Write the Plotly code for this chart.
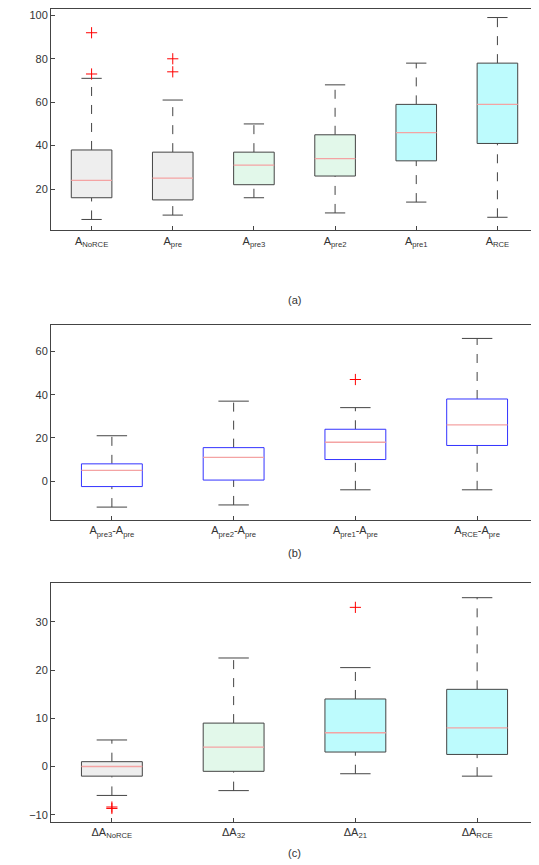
import plotly.graph_objects as go

# panel (a)
a_labels = ["A<sub>NoRCE</sub>", "A<sub>pre</sub>", "A<sub>pre3</sub>", "A<sub>pre2</sub>", "A<sub>pre1</sub>", "A<sub>RCE</sub>"]
a_low = [6, 8, 16, 9, 14, 7]
a_q1 = [16, 15, 22, 26, 33, 41]
a_med = [24, 25, 31, 34, 46, 59]
a_q3 = [38, 37, 37, 45, 59, 78]
a_high = [71, 61, 50, 68, 78, 99]
a_out = [[73, 92], [74, 80], [], [], [], []]
a_fill = ["#eeeeee", "#eeeeee", "#e2f8ea", "#e2f8ea", "#bdfbfd", "#bdfbfd"]

# panel (b)
b_labels = ["A<sub>pre3</sub>-A<sub>pre</sub>", "A<sub>pre2</sub>-A<sub>pre</sub>", "A<sub>pre1</sub>-A<sub>pre</sub>", "A<sub>RCE</sub>-A<sub>pre</sub>"]
b_low = [-12, -11, -4, -4]
b_q1 = [-2.5, 0.5, 10, 16.5]
b_med = [5, 11, 18, 26]
b_q3 = [8, 15.5, 24, 38]
b_high = [21, 37, 34, 66]
b_out = [[], [], [47], []]
b_fill = ["white"] * 4

# panel (c)
c_labels = ["ΔA<sub>NoRCE</sub>", "ΔA<sub>32</sub>", "ΔA<sub>21</sub>", "ΔA<sub>RCE</sub>"]
c_low = [-6, -5, -1.5, -2]
c_q1 = [-2, -1, 3, 2.5]
c_med = [0, 4, 7, 8]
c_q3 = [1, 9, 14, 16]
c_high = [5.5, 22.5, 20.5, 35]
c_out = [[-8.4, -8.7], [], [33], []]
c_fill = ["#eeeeee", "#e2f8ea", "#bdfbfd", "#bdfbfd"]

fig = go.Figure()


def add_panel(n, low, q1, med, q3, high, outs, fills, edge):
    xa = "x" if n == 1 else "x%d" % n
    ya = "y" if n == 1 else "y%d" % n
    hw, cw = 0.25, 0.125
    for i in range(len(med)):
        x = i + 1
        fig.add_trace(go.Scatter(x=[x, x, None, x, x], y=[low[i], q1[i], None, q3[i], high[i]],
                                 mode="lines", line=dict(color="#444", width=1, dash="dash"),
                                 xaxis=xa, yaxis=ya, showlegend=False))
        fig.add_trace(go.Scatter(x=[x - cw, x + cw, None, x - cw, x + cw], y=[low[i], low[i], None, high[i], high[i]],
                                 mode="lines", line=dict(color="#444", width=1),
                                 xaxis=xa, yaxis=ya, showlegend=False))
        fig.add_trace(go.Scatter(x=[x - hw, x + hw, x + hw, x - hw, x - hw], y=[q1[i], q1[i], q3[i], q3[i], q1[i]],
                                 mode="lines", fill="toself", fillcolor=fills[i], line=dict(color=edge, width=1),
                                 xaxis=xa, yaxis=ya, showlegend=False))
        fig.add_trace(go.Scatter(x=[x - hw, x + hw], y=[med[i], med[i]], mode="lines",
                                 line=dict(color="#f4a3a3", width=1.3), xaxis=xa, yaxis=ya, showlegend=False))
        if outs[i]:
            fig.add_trace(go.Scatter(x=[x] * len(outs[i]), y=outs[i], mode="markers",
                                     marker=dict(symbol="cross-thin", size=8, line=dict(color="red", width=1)),
                                     xaxis=xa, yaxis=ya, showlegend=False))


add_panel(1, a_low, a_q1, a_med, a_q3, a_high, a_out, a_fill, "#444")
add_panel(2, b_low, b_q1, b_med, b_q3, b_high, b_out, b_fill, "#3333ff")
add_panel(3, c_low, c_q1, c_med, c_q3, c_high, c_out, c_fill, "#444")

axis_style = dict(showline=True, mirror=True, linecolor="#444", linewidth=1, ticks="inside",
                  ticklen=4, tickcolor="#444", showgrid=False, zeroline=False,
                  tickfont=dict(size=11, color="#333"))

fig.update_layout(
    width=539, height=865, plot_bgcolor="white", paper_bgcolor="white",
    margin=dict(l=43, r=9, t=0, b=0),
    font=dict(family="Liberation Sans, Arial", color="#333"),
    xaxis=dict(domain=[0, 1], anchor="y", range=[0.5, 6.5], tickvals=list(range(1, 7)), ticktext=a_labels, **axis_style),
    yaxis=dict(domain=[0.743, 0.999], range=[1, 103], tickvals=[20, 40, 60, 80, 100], **axis_style),
    xaxis2=dict(domain=[0, 1], anchor="y2", range=[0.5, 4.5], tickvals=list(range(1, 5)), ticktext=b_labels, **axis_style),
    yaxis2=dict(domain=[0.408, 0.633], range=[-18, 72], tickvals=[0, 20, 40, 60], **axis_style),
    xaxis3=dict(domain=[0, 1], anchor="y3", range=[0.5, 4.5], tickvals=list(range(1, 5)), ticktext=c_labels, **axis_style),
    yaxis3=dict(domain=[0.059, 0.335], range=[-11.5, 38], tickvals=[-10, 0, 10, 20, 30], **axis_style),
    annotations=[
        dict(text="(a)", x=0.5, y=0.663, xref="paper", yref="paper", showarrow=False, font=dict(size=11)),
        dict(text="(b)", x=0.5, y=0.370, xref="paper", yref="paper", showarrow=False, font=dict(size=11)),
        dict(text="(c)", x=0.5, y=0.014, xref="paper", yref="paper", showarrow=False, font=dict(size=11)),
    ],
)

fig.write_html("out.html")
